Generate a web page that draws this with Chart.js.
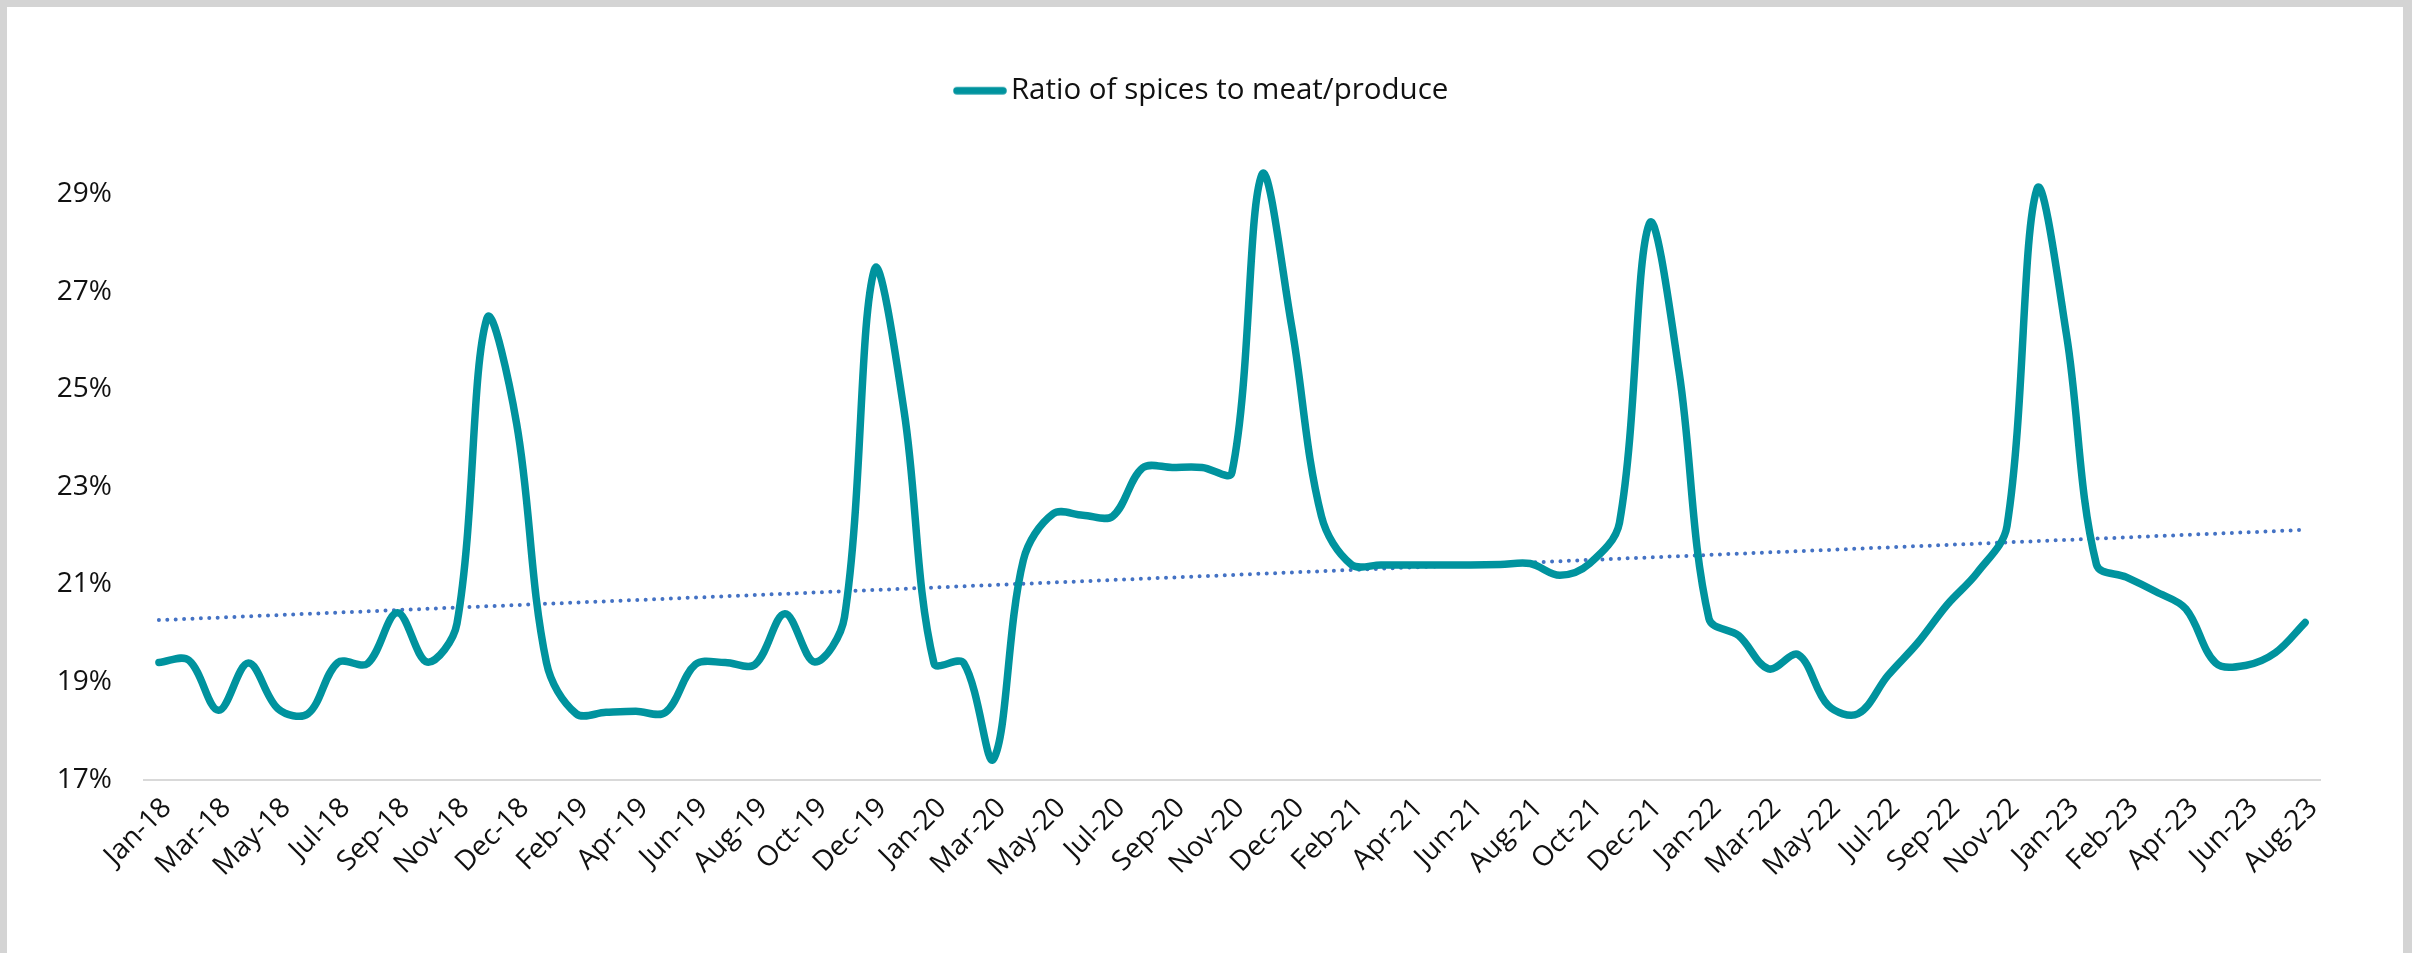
<!DOCTYPE html>
<html>
<head>
<meta charset="utf-8">
<script src="https://cdn.jsdelivr.net/npm/chart.js@4.4.0/dist/chart.umd.min.js"></script>
<style>
  html, body { margin: 0; padding: 0; background: #d4d4d4; overflow: hidden; }
  #frame { position: absolute; left: 7px; top: 7px; width: 2396px; height: 946px; background: #ffffff; }
  #c { position: absolute; left: 0; top: 0; }
</style>
</head>
<body>
<div id="frame"></div>
<canvas id="c" width="2412" height="953"></canvas>
<script>
// Monthly categories (holiday months carry a second reading)
const categories = [
  'Jan-18','Feb-18','Mar-18','Apr-18','May-18','Jun-18','Jul-18','Aug-18','Sep-18','Oct-18','Nov-18','Dec-18','Dec-18',
  'Jan-19','Feb-19','Mar-19','Apr-19','May-19','Jun-19','Jul-19','Aug-19','Sep-19','Oct-19','Nov-19','Dec-19','Dec-19',
  'Jan-20','Feb-20','Mar-20','Apr-20','May-20','Jun-20','Jul-20','Aug-20','Sep-20','Oct-20','Nov-20','Dec-20','Dec-20',
  'Jan-21','Feb-21','Mar-21','Apr-21','May-21','Jun-21','Jul-21','Aug-21','Sep-21','Oct-21','Nov-21','Dec-21','Dec-21',
  'Jan-22','Feb-22','Mar-22','Apr-22','May-22','Jun-22','Jul-22','Aug-22','Sep-22','Oct-22','Nov-22','Dec-22','Jan-23',
  'Jan-23','Feb-23','Mar-23','Apr-23','May-23','Jun-23','Jul-23','Aug-23'
];

// Ratio of spices to meat/produce, in percent
const spiceRatio = [
  19.40, 19.45, 18.42, 19.39, 18.45, 18.35, 19.40, 19.38, 20.42, 19.41, 20.20, 26.45, 24.30,
  19.40, 18.35, 18.38, 18.40, 18.38, 19.36, 19.40, 19.36, 20.40, 19.41, 20.33, 27.45, 24.55,
  19.39, 19.39, 17.42, 21.50, 22.45, 22.42, 22.40, 23.39, 23.40, 23.40, 23.30, 29.40, 26.30,
  22.40, 21.41, 21.40, 21.40, 21.40, 21.40, 21.41, 21.43, 21.19, 21.43, 22.27, 28.40, 25.35,
  20.30, 19.95, 19.27, 19.56, 18.52, 18.35, 19.13, 19.80, 20.59, 21.24, 22.20, 29.10, 26.10,
  21.41, 21.15, 20.85, 20.50, 19.39, 19.34, 19.60, 20.22
];

// Linear trend line: value at the first and last category
const trendEnds = [20.27, 22.12];

// Value axis ticks (percent)
const yTickValues = [17, 19, 21, 23, 25, 27, 29];
const yMin = 17, yMax = 30;

const SERIES_COLOR = '#00939e';
const TREND_COLOR = '#4472c4';

const trendData = categories.map((_, i) =>
  i === 0 ? trendEnds[0] : (i === categories.length - 1 ? trendEnds[1] : null));

// Legend swatch: a short thick rounded stroke in the series colour
function makeSwatch() {
  const c = document.createElement('canvas');
  c.width = 54; c.height = 10;
  const g = c.getContext('2d');
  g.strokeStyle = SERIES_COLOR;
  g.lineWidth = 7.5;
  g.lineCap = 'round';
  g.beginPath();
  g.moveTo(4, 5);
  g.lineTo(50, 5);
  g.stroke();
  return c;
}
const swatch = makeSwatch();

Chart.defaults.font.family = "'Open Sans', 'Noto Sans', sans-serif";
Chart.defaults.color = '#111111';

// Empty spacer axes that reserve room above and to the right of the plot
const spacer = (position, size) => ({
  type: position === 'top' ? 'category' : 'linear',
  position,
  display: true,
  grid: { display: false, drawTicks: false },
  border: { display: false },
  ticks: { display: false },
  afterFit: (scale) => {
    if (position === 'top') scale.height = size; else scale.width = size;
  }
});

new Chart(document.getElementById('c'), {
  type: 'line',
  data: {
    labels: categories,
    datasets: [
      {
        label: 'Ratio of spices to meat/produce',
        data: spiceRatio,
        xAxisID: 'x',
        yAxisID: 'y',
        borderColor: SERIES_COLOR,
        backgroundColor: SERIES_COLOR,
        borderWidth: 7.5,
        borderCapStyle: 'round',
        borderJoinStyle: 'round',
        pointRadius: 0,
        pointHoverRadius: 0,
        pointStyle: swatch,
        tension: 0.35,
        fill: false,
        order: 1
      },
      {
        label: 'Linear trend',
        data: trendData,
        xAxisID: 'x',
        yAxisID: 'y',
        spanGaps: true,
        borderColor: TREND_COLOR,
        borderWidth: 4,
        borderDash: [0, 8.4],
        borderCapStyle: 'round',
        pointRadius: 0,
        pointHoverRadius: 0,
        tension: 0,
        fill: false,
        order: 2
      }
    ]
  },
  options: {
    responsive: false,
    devicePixelRatio: 1,
    animation: false,
    events: [],
    layout: { padding: { left: 0, right: 0, top: 66, bottom: 0 } },
    plugins: {
      tooltip: { enabled: false },
      legend: {
        display: true,
        position: 'top',
        align: 'center',
        labels: {
          filter: (item) => item.datasetIndex === 0,
          usePointStyle: true,
          pointStyleWidth: 32.5,
          padding: 10,
          color: '#111111',
          font: { size: 29.5 }
        }
      }
    },
    scales: {
      x: {
        type: 'category',
        offset: true,
        grid: { display: false, drawTicks: false },
        border: { display: true, color: '#d9d9d9', width: 2 },
        ticks: {
          autoSkip: false,
          maxRotation: 45,
          minRotation: 45,
          padding: 12,
          labelOffset: 8,
          color: '#111111',
          font: { size: 28 },
          callback: (value, index) => (index % 2 === 0 ? categories[index] : '')
        },
        afterFit: (scale) => { scale.height = 173.4; }
      },
      y: {
        type: 'linear',
        min: yMin,
        max: yMax,
        grid: { display: false, drawTicks: false },
        border: { display: false },
        afterBuildTicks: (scale) => { scale.ticks = yTickValues.map(v => ({ value: v })); },
        ticks: {
          padding: 32,
          color: '#111111',
          font: { size: 28 },
          callback: (value) => value + '%'
        },
        afterFit: (scale) => { scale.width = 144; }
      },
      topGap: spacer('top', 30),
      rightGap: spacer('right', 92)
    }
  }
});
</script>
</body>
</html>
